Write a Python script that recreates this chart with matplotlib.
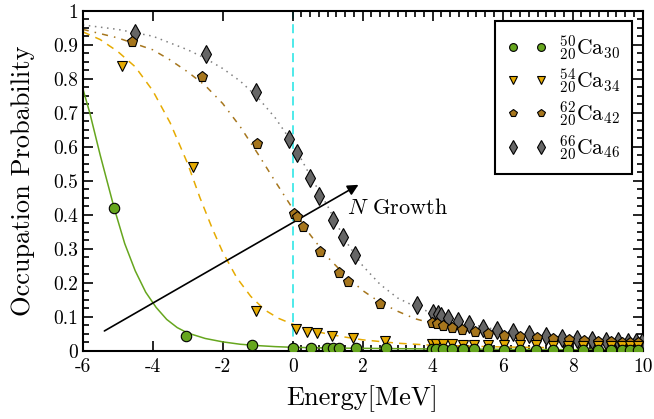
import numpy as np
import matplotlib
matplotlib.use('Agg')
import matplotlib.pyplot as plt
from matplotlib.ticker import MultipleLocator, FixedLocator, FuncFormatter

plt.rcParams['font.family'] = 'cmr10'
plt.rcParams['mathtext.fontset'] = 'cm'
plt.rcParams['axes.unicode_minus'] = False
plt.rcParams['axes.formatter.use_mathtext'] = True

# === data ===
# Ca50 (points)
ca50_x = [-5.1, -3.05, -1.15, 0.02, 0.51, 0.97, 1.16, 1.33, 1.81, 2.66,
          3.97, 4.11, 4.3, 4.54, 4.87, 5.18, 5.59, 6.05, 6.5, 6.95, 7.43, 7.87, 8.3, 8.73, 9.11, 9.4, 9.64, 9.87]
ca50_y = [0.419, 0.044, 0.016, 0.008, 0.007, 0.007, 0.007, 0.007, 0.007, 0.007,
          0.004, 0.004, 0.004, 0.004, 0.004, 0.004, 0.004, 0.003, 0.003, 0.003, 0.003, 0.003, 0.003, 0.003, 0.003, 0.003, 0.003, 0.003]
# Ca54
ca54_x = [-4.87, -2.84, -1.06, 0.1, 0.4, 0.7, 1.11, 1.73, 2.64,
          3.97, 4.11, 4.3, 4.54, 4.87, 5.18, 5.59, 6.05, 6.5, 6.95, 7.43, 7.87, 8.3, 8.73, 9.11, 9.4, 9.64, 9.87]
ca54_y = [0.838, 0.541, 0.117, 0.064, 0.056, 0.051, 0.044, 0.036, 0.029,
          0.020, 0.020, 0.019, 0.019, 0.018, 0.018, 0.017, 0.017, 0.016, 0.016, 0.015, 0.015, 0.015, 0.014, 0.014, 0.014, 0.013, 0.013]
# Ca62
ca62_x = [-4.59, -2.6, -1.01, 0.05, 0.13, 0.3, 0.78, 1.32, 1.59, 2.51,
          3.97, 4.13, 4.3, 4.54, 4.85, 5.21, 5.59, 6.04, 6.49, 6.97, 7.43, 7.9, 8.32, 8.73, 9.11, 9.4, 9.64, 9.87]
ca62_y = [0.907, 0.804, 0.608, 0.402, 0.392, 0.365, 0.291, 0.228, 0.201, 0.136,
          0.081, 0.078, 0.074, 0.067, 0.061, 0.054, 0.048, 0.044, 0.040, 0.037, 0.034, 0.031, 0.029, 0.027, 0.025, 0.024, 0.023, 0.022]
# Ca66
ca66_x = [-4.5, -2.49, -1.04, -0.1, 0.11, 0.49, 0.76, 1.14, 1.43, 1.79, 3.54,
          4.02, 4.15, 4.24, 4.45, 4.73, 5.05, 5.43, 5.85, 6.29, 6.75, 7.23, 7.7, 8.14, 8.56, 8.95, 9.3, 9.59, 9.81, 9.97]
ca66_y = [0.934, 0.873, 0.76, 0.622, 0.582, 0.509, 0.456, 0.384, 0.333, 0.281, 0.133,
          0.112, 0.108, 0.103, 0.095, 0.087, 0.079, 0.068, 0.061, 0.054, 0.048, 0.043, 0.038, 0.034, 0.031, 0.029, 0.028, 0.027, 0.025, 0.025]

# fitted curves (read as points along the curves)
fit50_x = [-6.0, -5.8, -5.5, -5.1, -4.8, -4.5, -4.2, -3.9, -3.6, -3.3, -3.0, -2.5, -2.0, -1.5, -1.0, -0.5, 0.0, 1.0, 2.0, 4.0, 6.0, 8.0, 10.0]
fit50_y = [0.772, 0.700, 0.575, 0.419, 0.315, 0.235, 0.172, 0.127, 0.092, 0.068, 0.052, 0.036, 0.026, 0.019, 0.015, 0.012, 0.010, 0.008, 0.007, 0.005, 0.004, 0.003, 0.003]
fit54_x = [-6.0, -5.5, -5.0, -4.5, -4.0, -3.5, -3.0, -2.65, -2.3, -2.0, -1.6, -1.2, -0.8, -0.4, 0.0, 0.5, 1.0, 1.5, 2.0, 3.0, 4.0, 6.0, 8.0, 10.0]
fit54_y = [0.938, 0.915, 0.880, 0.835, 0.765, 0.670, 0.550, 0.450, 0.360, 0.290, 0.215, 0.160, 0.120, 0.095, 0.078, 0.061, 0.049, 0.040, 0.032, 0.022, 0.016, 0.011, 0.008, 0.007]
fit62_x = [-6.0, -5.0, -4.0, -3.5, -3.0, -2.5, -2.0, -1.5, -1.0, -0.5, 0.0, 0.5, 1.0, 1.5, 2.0, 2.5, 3.0, 3.5, 4.0, 5.0, 6.0, 7.0, 8.0, 9.0, 10.0]
fit62_y = [0.945, 0.920, 0.885, 0.855, 0.820, 0.780, 0.727, 0.659, 0.580, 0.498, 0.418, 0.341, 0.275, 0.222, 0.177, 0.142, 0.116, 0.094, 0.080, 0.058, 0.046, 0.038, 0.032, 0.027, 0.022]
fit66_x = [-6.0, -5.0, -4.0, -3.5, -3.0, -2.5, -2.0, -1.5, -1.0, -0.5, 0.0, 0.5, 1.0, 1.5, 2.0, 2.5, 3.0, 3.5, 4.0, 5.0, 6.0, 7.0, 8.0, 9.0, 10.0]
fit66_y = [0.958, 0.945, 0.925, 0.905, 0.885, 0.860, 0.830, 0.793, 0.745, 0.685, 0.610, 0.515, 0.425, 0.325, 0.250, 0.195, 0.155, 0.130, 0.110, 0.080, 0.058, 0.046, 0.037, 0.030, 0.025]

labels = [r'${}^{50}_{20}\mathrm{Ca}_{30}$', r'${}^{54}_{20}\mathrm{Ca}_{34}$',
          r'${}^{62}_{20}\mathrm{Ca}_{42}$', r'${}^{66}_{20}\mathrm{Ca}_{46}$']
colors = ['#66A61E', '#E6AB02', '#A6761D', '#666666']

# === plot ===
fig = plt.figure(figsize=(6.54, 4.19), dpi=100)
ax = fig.add_axes([0.1265, 0.163, 0.856, 0.8115])

ax.axvline(0, color='#40e8e8', linestyle=(0, (5, 3)), linewidth=1.3, zorder=1)

ax.plot(fit50_x, fit50_y, color=colors[0], linestyle='-', linewidth=1.1, zorder=2)
ax.plot(fit54_x, fit54_y, color=colors[1], linestyle=(0, (5, 4)), linewidth=1.1, zorder=2)
ax.plot(fit62_x, fit62_y, color=colors[2], linestyle=(0, (4, 4, 1, 4)), linewidth=1.1, zorder=2)
ax.plot(fit66_x, fit66_y, color='#808080', linestyle=(0, (1, 3)), linewidth=1.1, zorder=2)

ax.plot(ca66_x, ca66_y, 'd', color=colors[3], mec='k', mew=0.8, ms=9, label=labels[3], zorder=3)
ax.plot(ca62_x, ca62_y, 'p', color=colors[2], mec='k', mew=0.8, ms=8, label=labels[2], zorder=4)
ax.plot(ca54_x, ca54_y, 'v', color=colors[1], mec='k', mew=0.8, ms=7.5, label=labels[1], zorder=5)
ax.plot(ca50_x, ca50_y, 'o', color=colors[0], mec='k', mew=0.8, ms=7.5, label=labels[0], zorder=6)

# arrow
ax.annotate('', xy=(1.95, 0.492), xytext=(-5.45, 0.054),
            arrowprops=dict(arrowstyle='-|>', color='k', lw=1.2, mutation_scale=16))
ax.text(1.55, 0.419, r'$N$ Growth', fontsize=16, va='center', ha='left')

ax.set_xlim(-6, 10)
ax.set_ylim(0, 1)
ax.xaxis.set_major_locator(MultipleLocator(2))
ax.xaxis.set_minor_locator(FixedLocator(np.arange(0, 10.01, 0.25)))
ax.yaxis.set_major_locator(MultipleLocator(0.1))
ax.yaxis.set_minor_locator(MultipleLocator(0.025))
ax.xaxis.set_major_formatter(FuncFormatter(lambda v, p: '%g' % v))
ax.yaxis.set_major_formatter(FuncFormatter(lambda v, p: '%g' % round(v, 2)))
ax.tick_params(which='both', direction='in', top=True, right=True, labelsize=14, width=1.2)
ax.tick_params(which='major', length=7)
ax.tick_params(which='minor', length=4)
ax.tick_params(axis='x', pad=5)
for s in ax.spines.values():
    s.set_linewidth(1.5)

ax.set_xlabel('Energy[MeV]', fontsize=19, labelpad=7)
ax.set_ylabel('Occupation Probability', fontsize=19, labelpad=13)

h, l = ax.get_legend_handles_labels()
leg = ax.legend(h[::-1], l[::-1], loc='upper right', numpoints=2, markerscale=0.75,
                fontsize=15.5, fancybox=False, edgecolor='k', framealpha=1,
                handlelength=1.9, handletextpad=0.5, labelspacing=0.2, borderpad=0.55)
leg.get_frame().set_linewidth(1.5)

fig.savefig('out.png', dpi=100)
